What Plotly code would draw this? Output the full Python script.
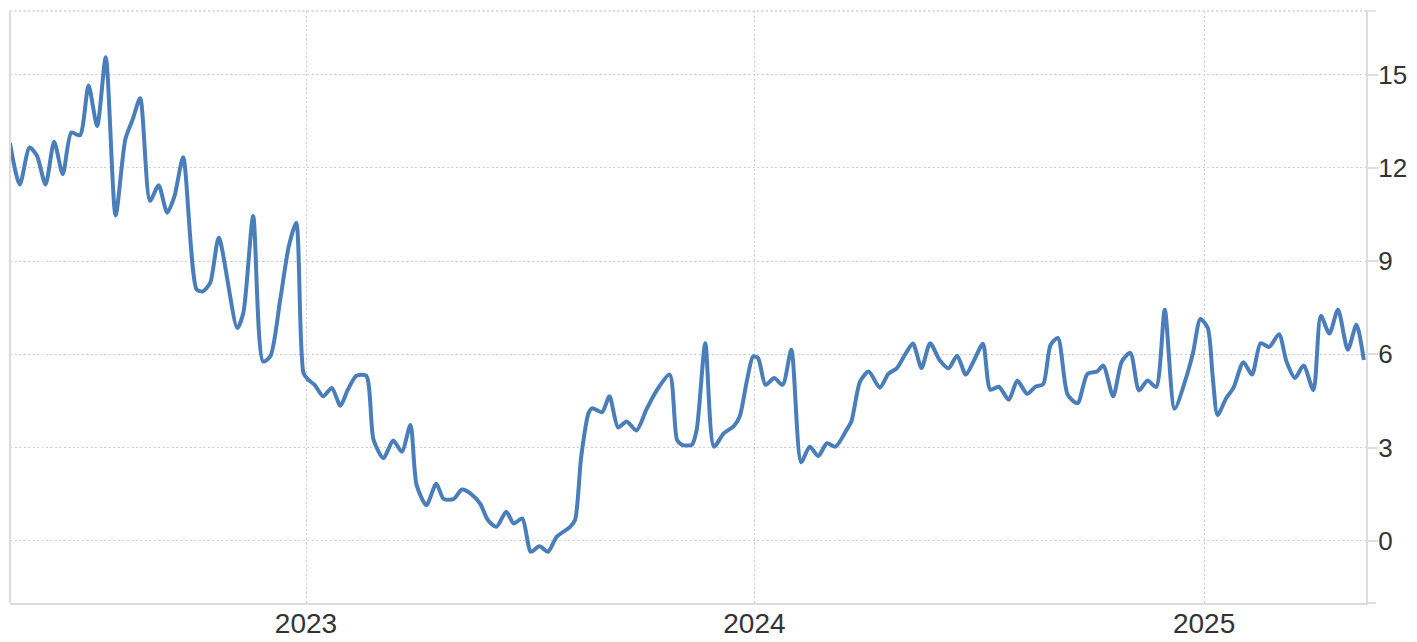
import plotly.graph_objects as go

dates = [
    "2022-05-05", "2022-05-13", "2022-05-21", "2022-05-27", "2022-06-03", "2022-06-10",
    "2022-06-17", "2022-06-24", "2022-07-01", "2022-07-08", "2022-07-15", "2022-07-22",
    "2022-07-30", "2022-08-07", "2022-08-13", "2022-08-19", "2022-08-27", "2022-09-03",
    "2022-09-10", "2022-09-16", "2022-09-23", "2022-10-04", "2022-10-09", "2022-10-15",
    "2022-10-22", "2022-11-06", "2022-11-11", "2022-11-19", "2022-11-27", "2022-12-03",
    "2022-12-11", "2022-12-18", "2022-12-24", "2022-12-30", "2023-01-03", "2023-01-08",
    "2023-01-15", "2023-01-22", "2023-01-29", "2023-02-04", "2023-02-11", "2023-02-19",
    "2023-02-25", "2023-03-05", "2023-03-13", "2023-03-20", "2023-03-27", "2023-04-01",
    "2023-04-09", "2023-04-17", "2023-04-23", "2023-05-01", "2023-05-08", "2023-05-15",
    "2023-05-23", "2023-05-29", "2023-06-05", "2023-06-13", "2023-06-19", "2023-06-26",
    "2023-07-03", "2023-07-10", "2023-07-17", "2023-07-24", "2023-08-04", "2023-08-08",
    "2023-08-13", "2023-08-19", "2023-08-22", "2023-08-30", "2023-09-05", "2023-09-12",
    "2023-09-19", "2023-09-27", "2023-10-05", "2023-10-13", "2023-10-24", "2023-10-30",
    "2023-11-03", "2023-11-11", "2023-11-15", "2023-11-22", "2023-11-29", "2023-12-07",
    "2023-12-15", "2023-12-20", "2023-12-26", "2023-12-31", "2024-01-04", "2024-01-10",
    "2024-01-17", "2024-01-24", "2024-01-31", "2024-02-08", "2024-02-15", "2024-02-22",
    "2024-02-29", "2024-03-07", "2024-03-16", "2024-03-20", "2024-03-27", "2024-04-03",
    "2024-04-12", "2024-04-19", "2024-04-26", "2024-05-03", "2024-05-09", "2024-05-16",
    "2024-05-23", "2024-05-31", "2024-06-07", "2024-06-14", "2024-06-21", "2024-06-28",
    "2024-07-05", "2024-07-11", "2024-07-18", "2024-07-26", "2024-08-02", "2024-08-10",
    "2024-08-17", "2024-08-23", "2024-08-29", "2024-09-04", "2024-09-12", "2024-09-20",
    "2024-09-28", "2024-10-06", "2024-10-11", "2024-10-19", "2024-10-26", "2024-11-02",
    "2024-11-09", "2024-11-16", "2024-11-23", "2024-11-30", "2024-12-08", "2024-12-17",
    "2024-12-23", "2024-12-29", "2025-01-04", "2025-01-08", "2025-01-12", "2025-01-19",
    "2025-01-25", "2025-02-02", "2025-02-09", "2025-02-16", "2025-02-23", "2025-03-03",
    "2025-03-09", "2025-03-16", "2025-03-23", "2025-03-31", "2025-04-06", "2025-04-13",
    "2025-04-20", "2025-04-28", "2025-05-05", "2025-05-11",
]

values = [
    12.80, 11.47, 12.66, 12.39, 11.47, 12.84,
    11.80, 13.14, 13.05, 14.65, 13.35, 15.56,
    10.47, 12.93, 13.57, 14.24, 10.94, 11.44,
    10.56, 11.10, 12.34, 8.09, 8.03, 8.30,
    9.75, 6.85, 7.34, 10.45, 5.77, 5.94,
    7.76, 9.48, 10.24, 5.40, 5.18, 5.02,
    4.65, 4.92, 4.35, 4.86, 5.31, 5.31,
    3.25, 2.66, 3.23, 2.87, 3.73, 1.80,
    1.15, 1.84, 1.35, 1.34, 1.65, 1.52,
    1.18, 0.67, 0.45, 0.94, 0.56, 0.72,
    -0.35, -0.17, -0.35, 0.13, 0.45, 0.67,
    2.71, 4.11, 4.27, 4.14, 4.65, 3.65,
    3.84, 3.55, 4.22, 4.81, 5.35, 3.25,
    3.09, 3.09, 3.57, 6.36, 3.03, 3.46,
    3.68, 4.00, 5.18, 5.94, 5.88, 5.02,
    5.24, 5.02, 6.15, 2.53, 3.03, 2.73,
    3.14, 3.03, 3.57, 3.85, 5.13, 5.45,
    4.93, 5.37, 5.56, 6.02, 6.35, 5.56,
    6.36, 5.80, 5.55, 5.96, 5.35, 5.83,
    6.34, 4.86, 4.96, 4.54, 5.15, 4.73,
    4.97, 5.04, 6.30, 6.53, 4.70, 4.43,
    5.37, 5.45, 5.64, 4.65, 5.77, 6.05,
    4.84, 5.16, 4.95, 7.44, 4.25, 5.20,
    6.05, 7.14, 6.85, 5.29, 4.05, 4.59,
    4.93, 5.75, 5.35, 6.36, 6.24, 6.65,
    5.78, 5.24, 5.64, 4.85, 7.24, 6.67,
    7.44, 6.15, 6.95, 5.82,
]

y_ticks = [0, 3, 6, 9, 12, 15]
y_range = [-2, 17.05]
x_ticks = ["2023-01-01", "2024-01-01", "2025-01-01"]
x_labels = ["2023", "2024", "2025"]
x_range = ["2022-05-05 01:26", "2025-05-12 19:12"]

LINE = "#4a7ebb"
GRID = "#cfcfcf"
AXIS = "#dcdcdc"
FONT = "Liberation Sans, Arial, Helvetica, sans-serif"
DASH = "2px,2.5px"

fig = go.Figure()
fig.add_trace(go.Scatter(
    x=dates, y=values, mode="lines",
    line=dict(color=LINE, width=4, shape="spline", smoothing=0.7),
    hoverinfo="x+y", showlegend=False,
))

fig.update_layout(
    width=1417, height=642, autosize=False,
    margin=dict(l=10, r=51, t=11, b=39, pad=0, autoexpand=False),
    paper_bgcolor="white", plot_bgcolor="white",
    font=dict(family=FONT, color="#333333"),
    xaxis=dict(
        type="date", range=x_range, automargin=False,
        tickmode="array", tickvals=x_ticks, ticktext=x_labels,
        showgrid=True, gridcolor=GRID, griddash=DASH, gridwidth=1.4,
        showline=True, linecolor=AXIS, linewidth=2,
        ticks="", tickfont=dict(size=28, color="#333333", family=FONT),
        ticklabelstandoff=-6,
        zeroline=False, fixedrange=True,
    ),
    yaxis=dict(
        side="right", range=y_range, automargin=False,
        tickmode="array", tickvals=y_ticks,
        showgrid=True, gridcolor=GRID, griddash=DASH, gridwidth=1.4,
        showline=True, linecolor=AXIS, linewidth=2,
        ticks="outside", ticklen=10, tickcolor=AXIS, tickwidth=1.5,
        tickfont=dict(size=26, color="#333333", family=FONT),
        ticklabelstandoff=-5,
        zeroline=False, fixedrange=True,
    ),
    shapes=[
        dict(type="line", xref="paper", yref="paper", x0=0, x1=1, y0=1, y1=1,
             line=dict(color=GRID, width=1.4, dash=DASH)),
        dict(type="line", xref="paper", yref="paper", x0=1, x1=1 + 10 / 1356, y0=1, y1=1,
             line=dict(color=AXIS, width=1.5)),
        dict(type="line", xref="paper", yref="paper", x0=1, x1=1 + 10 / 1356, y0=0, y1=0,
             line=dict(color=AXIS, width=2)),
        dict(type="line", xref="paper", yref="paper", x0=0, x1=0, y0=0, y1=1,
             line=dict(color=AXIS, width=2)),
    ],
)

fig.write_html(
    "out.html",
    config={"displayModeBar": False, "responsive": False},
    post_script="document.body.style.margin='0';document.body.style.overflow='hidden';",
)
